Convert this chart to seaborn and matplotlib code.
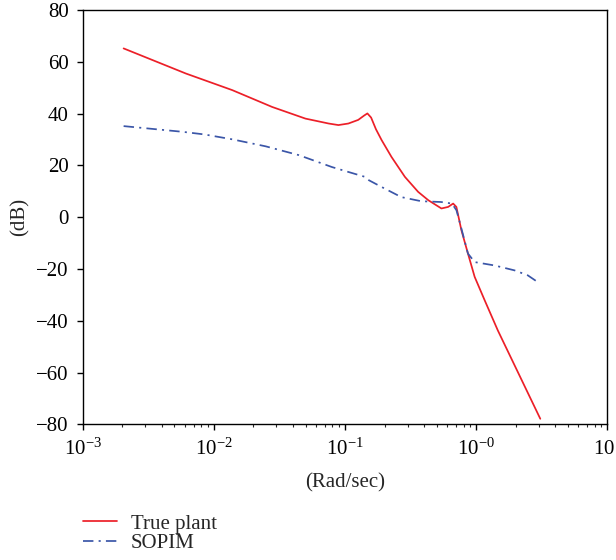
import numpy as np
import pandas as pd
import matplotlib
matplotlib.use("Agg")
import matplotlib.pyplot as plt
import seaborn as sns
from matplotlib.ticker import FixedLocator, FixedFormatter, LogLocator, NullFormatter, NullLocator

# ---- data ----
true_w = [0.00205, 0.00612, 0.0138, 0.0278, 0.0499, 0.075, 0.089, 0.106, 0.126, 0.140,
          0.148, 0.158, 0.172, 0.190, 0.226, 0.286, 0.361, 0.431, 0.543, 0.611, 0.667,
          0.706, 0.771, 0.865, 0.973, 1.159, 1.462, 3.08]
true_db = [65.2, 55.5, 49.1, 42.6, 38.1, 36.2, 35.6, 36.2, 37.6, 39.3,
           40.1, 38.5, 34.0, 29.8, 23.3, 15.6, 9.8, 6.6, 3.4, 4.0, 5.3,
           4.0, -5.0, -14.0, -23.0, -32.0, -43.7, -77.8]
sopim_w = [0.00205, 0.00577, 0.00843, 0.0138, 0.0248, 0.0444, 0.0794, 0.106, 0.142, 0.152,
           0.190, 0.268, 0.381, 0.540, 0.654, 0.707, 0.765, 0.865, 0.973, 1.38, 1.96, 2.47, 2.94]
sopim_db = [35.2, 33.0, 32.0, 30.1, 27.4, 24.0, 19.4, 17.5, 15.6, 14.3,
            11.7, 7.8, 6.2, 5.9, 5.3, 2.7, -3.7, -14.0, -17.3, -18.6, -20.5, -22.4, -25.0]
series_names = ["True plant", "SOPIM"]
x_ticks = [1e-3, 1e-2, 1e-1, 1e0, 1e1]
x_ticklabels = [r"$10^{-3}$", r"$10^{-2}$", r"$10^{-1}$", r"$10^{-0}$", r"$10^{1}$"]
y_ticks = [-80, -60, -40, -20, 0, 20, 40, 60, 80]
x_label = "(Rad/sec)"
y_label = "(dB)"

sns.set_style("ticks")
plt.rcParams["font.family"] = ["Liberation Serif", "DejaVu Serif"]
plt.rcParams["mathtext.fontset"] = "custom"
plt.rcParams["mathtext.rm"] = "Liberation Serif"
plt.rcParams["mathtext.it"] = "Liberation Serif:italic"
plt.rcParams["mathtext.bf"] = "Liberation Serif:bold"

FS = 15

fig = plt.figure(figsize=(6.16, 5.60), dpi=100)
ax = fig.add_axes([0.1343, 0.2420, 0.9860 - 0.1343, 0.982 - 0.2420])

df1 = pd.DataFrame({"w": true_w, "db": true_db})
df2 = pd.DataFrame({"w": sopim_w, "db": sopim_db})
sns.lineplot(data=df1, x="w", y="db", ax=ax, color="#ec1f28", lw=1.25, sort=False,
             label=series_names[0], legend=False)
sns.lineplot(data=df2, x="w", y="db", ax=ax, color="#3b56a8", lw=1.25, sort=False,
             label=series_names[1], legend=False)
ax.lines[1].set_dashes([6, 3, 1.2, 3])

ax.set_xscale("log")
ax.set_xlim(1e-3, 1e1)
ax.set_ylim(-80, 80)
ax.xaxis.set_major_locator(FixedLocator(x_ticks))
ax.xaxis.set_major_formatter(FixedFormatter(x_ticklabels))
ax.xaxis.set_minor_locator(LogLocator(base=10, subs=np.arange(2, 10)))
ax.xaxis.set_minor_formatter(NullFormatter())
ax.yaxis.set_major_locator(FixedLocator(y_ticks))
ax.yaxis.set_minor_locator(NullLocator())

for s in ax.spines.values():
    s.set_visible(True)
    s.set_linewidth(1.0)
    s.set_color("black")
ax.tick_params(axis="both", which="major", direction="out", length=4.5, width=1,
               labelsize=FS, colors="black")
ax.tick_params(axis="x", which="major", pad=6)
ax.tick_params(axis="y", which="major", pad=5.5)
ax.tick_params(axis="x", which="minor", direction="out", length=2.5, width=0.8)
ax.tick_params(top=False, right=False, which="both")

ax.set_xlabel(x_label, fontsize=FS, labelpad=9)
ax.set_ylabel(y_label, fontsize=FS, labelpad=5)

handles = ax.lines[:2]
fig.legend(handles, series_names, loc="upper left", bbox_to_anchor=(0.1347, 0.082),
           frameon=False, fontsize=FS, handlelength=1.65, handletextpad=0.65,
           labelspacing=0.0, borderaxespad=0, borderpad=0)

fig.savefig("out.png", dpi=100)
